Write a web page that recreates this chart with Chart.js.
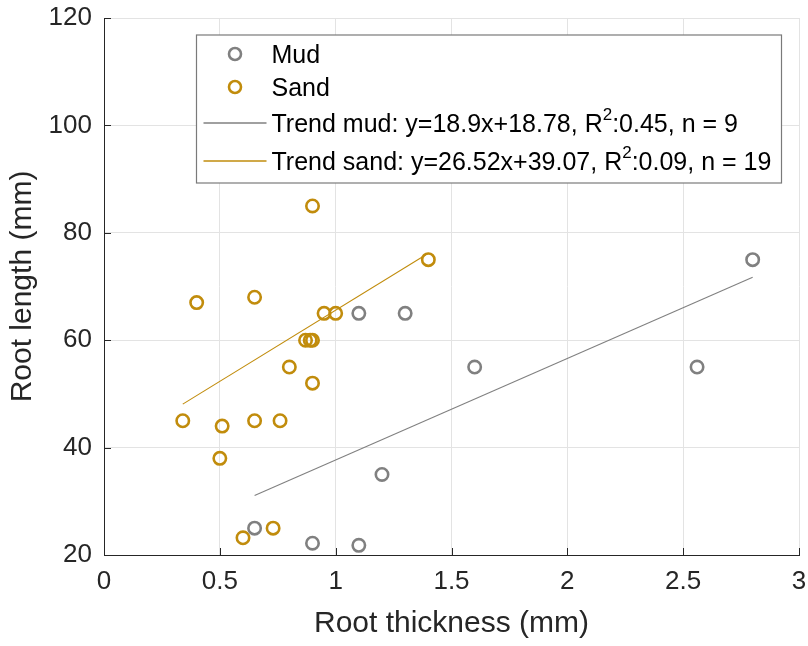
<!DOCTYPE html>
<html><head><meta charset="utf-8">
<script src="https://cdn.jsdelivr.net/npm/chart.js@4"></script>
<style>html,body{margin:0;padding:0;background:#fff}#wrap{width:808px;height:646px;position:relative}canvas{display:block}</style>
</head><body><div id="wrap"><canvas id="c" width="808" height="646" style="width:808px;height:646px"></canvas></div>
<script>
const xTicks = [0, 0.5, 1, 1.5, 2, 2.5, 3];
const yTicks = [20, 40, 60, 80, 100, 120];
const mudX = [0.65, 0.9, 1.1, 1.2, 1.1, 1.3, 1.6, 2.56, 2.8];
const mudY = [25, 22.2, 21.8, 35, 65, 65, 55, 55, 75];
const sandX = [0.34, 0.4, 0.5, 0.51, 0.6, 0.65, 0.65, 0.73, 0.76, 0.8, 0.87, 0.89, 0.9, 0.9, 0.9, 0.95, 1.0, 1.4];
const sandY = [45, 67, 38, 44, 23.2, 68, 45, 25, 45, 55, 60, 60, 60, 52, 85, 65, 65, 75];
const trendMudX = [0.65, 2.8];
const trendMudY = [31.1, 71.7];
const trendSandX = [0.34, 1.4];
const trendSandY = [48.1, 76.2];
const seriesLabels = ['Mud', 'Sand', 'Trend mud: y=18.9x+18.78, R^2:0.45, n = 9', 'Trend sand: y=26.52x+39.07, R^2:0.09, n = 19'];
const xTitle = 'Root thickness (mm)';
const yTitle = 'Root length (mm)';

const GRAY = '#808080';
const GOLD = '#c18c0c';
const AXIS = '#262626';
const FONT = '"Liberation Sans", Arial, Helvetica, sans-serif';
const seriesColors = [GRAY, GOLD, GRAY, GOLD];

const pts = (xs, ys) => xs.map((x, i) => ({x, y: ys[i]}));

const inwardTicks = {
  id: 'inwardTicks',
  afterDraw(chart) {
    const {ctx, chartArea: a, scales: {x, y}} = chart;
    ctx.save();
    ctx.strokeStyle = AXIS; ctx.lineWidth = 1;
    ctx.beginPath();
    xTicks.forEach(v => { const px = Math.round(x.getPixelForValue(v)) + 0.5; ctx.moveTo(px, a.bottom); ctx.lineTo(px, a.bottom - 7); });
    yTicks.forEach(v => { const py = Math.round(y.getPixelForValue(v)) + 0.5; ctx.moveTo(a.left, py); ctx.lineTo(a.left + 7, py); });
    ctx.stroke();
    ctx.restore();
  }
};

function drawLabel(ctx, text, x, cy) {
  const parts = text.split('^2');
  ctx.font = '25px ' + FONT;
  ctx.textBaseline = 'middle';
  ctx.fillStyle = '#000';
  let cx = x;
  ctx.fillText(parts[0], cx, cy);
  cx += ctx.measureText(parts[0]).width;
  if (parts.length > 1) {
    ctx.font = '17px ' + FONT;
    ctx.fillText('2', cx, cy - 10);
    cx += ctx.measureText('2').width;
    ctx.font = '25px ' + FONT;
    ctx.fillText(parts[1], cx, cy);
  }
}

const legendPlugin = {
  id: 'matLegend',
  afterDatasetsDraw(chart) {
    const {ctx, chartArea: a} = chart;
    const bx = a.left + 92.5, by = a.top + 17, bw = 585, bh = 148;
    ctx.save();
    ctx.fillStyle = '#fff'; ctx.fillRect(bx, by, bw, bh);
    ctx.strokeStyle = '#7a7a7a'; ctx.lineWidth = 1.2; ctx.strokeRect(bx, by, bw, bh);
    const rows = [19, 52, 88, 126];
    chart.data.datasets.forEach((ds, i) => {
      const cy = by + rows[i];
      const col = seriesColors[i];
      if (ds.showLine) {
        ctx.strokeStyle = col; ctx.lineWidth = 1.4;
        ctx.beginPath(); ctx.moveTo(bx + 7, cy); ctx.lineTo(bx + 70, cy); ctx.stroke();
      } else {
        ctx.strokeStyle = col; ctx.lineWidth = 2.6;
        ctx.beginPath(); ctx.arc(bx + 38.5, cy, 6, 0, Math.PI * 2); ctx.stroke();
      }
      drawLabel(ctx, ds.label, bx + 75, cy + 2);
    });
    ctx.restore();
  }
};

const ptStyle = c => ({borderColor: c, backgroundColor: 'rgba(0,0,0,0)', pointBorderColor: c, pointBackgroundColor: 'rgba(0,0,0,0)', pointRadius: 6.2, pointHoverRadius: 6.2, pointBorderWidth: 2.6, showLine: false, order: 1});
const lnStyle = c => ({borderColor: c, borderWidth: 1.1, pointRadius: 0, showLine: true, fill: false, order: 0});

new Chart(document.getElementById('c'), {
  type: 'scatter',
  data: {
    datasets: [
      Object.assign({label: seriesLabels[0], data: pts(mudX, mudY)}, ptStyle(seriesColors[0])),
      Object.assign({label: seriesLabels[1], data: pts(sandX, sandY)}, ptStyle(seriesColors[1])),
      Object.assign({label: seriesLabels[2], data: pts(trendMudX, trendMudY)}, lnStyle(seriesColors[2])),
      Object.assign({label: seriesLabels[3], data: pts(trendSandX, trendSandY)}, lnStyle(seriesColors[3]))
    ]
  },
  options: {
    responsive: false,
    maintainAspectRatio: false,
    animation: false,
    devicePixelRatio: 1,
    layout: {padding: {top: 18, right: 9, left: 0, bottom: 0}},
    plugins: {legend: {display: false}, tooltip: {enabled: false}, title: {display: false}},
    scales: {
      x: {
        type: 'linear', min: 0, max: 3,
        afterBuildTicks: s => { s.ticks = xTicks.map(v => ({value: v})); },
        afterFit: s => { s.height = 91; s.paddingLeft = 0; s.paddingRight = 0; },
        grid: {color: '#e3e3e3', drawTicks: false, lineWidth: 1},
        border: {display: true, color: AXIS, width: 1},
        ticks: {color: AXIS, font: {family: FONT, size: 26}, padding: 11, maxRotation: 0, callback: v => String(v)},
        title: {display: true, text: xTitle, color: AXIS, font: {family: FONT, size: 30}, padding: {top: 0, bottom: 4}}
      },
      y: {
        type: 'linear', min: 20, max: 120,
        afterBuildTicks: s => { s.ticks = yTicks.map(v => ({value: v})); },
        afterFit: s => { s.width = 104; s.paddingTop = 0; s.paddingBottom = 0; },
        grid: {color: '#e3e3e3', drawTicks: false, lineWidth: 1},
        border: {display: true, color: AXIS, width: 1},
        ticks: {color: AXIS, font: {family: FONT, size: 26}, padding: 12, callback: v => String(v)},
        title: {display: true, text: yTitle, color: AXIS, font: {family: FONT, size: 30}, padding: {top: 5, bottom: 0}}
      }
    }
  },
  plugins: [inwardTicks, legendPlugin]
});
</script>
</body></html>
